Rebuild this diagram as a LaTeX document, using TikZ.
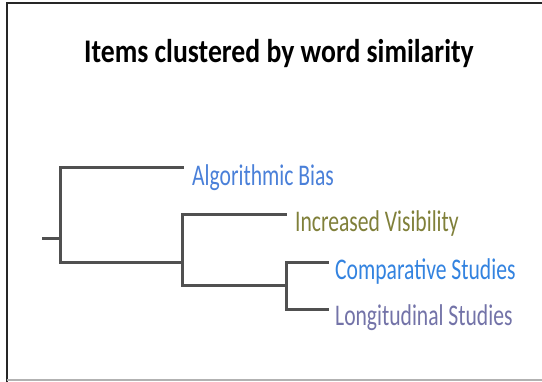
\documentclass[tikz,border=0pt]{standalone}
\usepackage{fontspec}
\setmainfont{Carlito}
\newfontfamily\labfont[FakeStretch=0.72]{Carlito}
\newfontfamily\titfont[FakeStretch=0.84]{Carlito}
\definecolor{branch}{HTML}{505050}
\definecolor{cAB}{HTML}{4A80D9}
\definecolor{cIV}{HTML}{80803A}
\definecolor{cCS}{HTML}{3383E0}
\definecolor{cLS}{HTML}{7373A8}
\tikzset{
  leaf/.style={anchor=base west, inner sep=0pt, font=\labfont\fontsize{30}{32}\selectfont},
  br/.style={draw=branch, line width=3pt, line cap=rect},
}
\begin{document}
\begin{tikzpicture}[x=1pt,y=-1pt]
\useasboundingbox (0,0) rectangle (542,382);
\fill[white] (0,0) rectangle (542,382);
% frame
\draw[line width=2.5pt, black!85] (7,382) -- (7,3) -- (542,3);
\draw[line width=2pt, black!30] (7,380.5) -- (542,380.5);
% title
\node[anchor=base, inner sep=0pt, font=\titfont\bfseries\fontsize{33}{35}\selectfont] (title) at (279,63) {Items clustered by word similarity};
% leaves
\node[leaf, text=cAB] (ab) at (192,186) {Algorithmic Bias};
\node[leaf, text=cIV] (iv) at (295,232) {Increased Visibility};
\node[leaf, text=cCS] (cs) at (335,280) {Comparative Studies};
\node[leaf, text=cLS] (ls) at (335,326) {Longitudinal Studies};
% junctions
\coordinate (root) at (43,239);
\coordinate (j1) at (60,239);
\coordinate (j2) at (182,263);
\coordinate (j3) at (286,286);
\coordinate (eab) at (182,168);
\coordinate (eiv) at (285,215);
\coordinate (ecs) at (327,263);
\coordinate (els) at (327,310);
% branches
\draw[br] (root) -- (j1);
\draw[br] (eab) -| (j1) |- (j2);
\draw[br] (eiv) -| (j2) |- (j3);
\draw[br] (ecs) -| (j3) |- (els);
\end{tikzpicture}
\end{document}
